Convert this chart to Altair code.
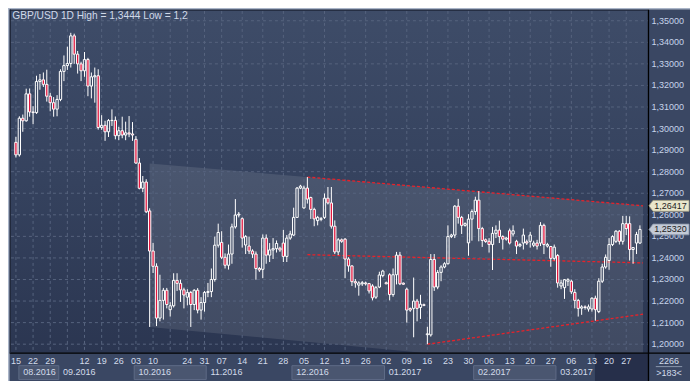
import altair as alt
import pandas as pd

# ---------------- data ----------------
OPEN = [1.2936,1.2878,1.3048,1.3036,1.3161,1.3077,1.3074,1.3218,1.3226,1.3205,
        1.3150,1.3120,1.3090,1.3135,1.3265,1.3292,1.3302,1.3430,1.3345,1.3300,
        1.3268,1.3320,1.3197,1.3240,1.3245,1.3005,1.3015,1.2985,1.3037,1.3038,
        1.2967,1.2990,1.2970,1.2980,1.2975,1.2950,1.2840,1.2723,1.2752,1.2618,
        1.2432,1.2361,1.2121,1.2203,1.2250,1.2160,1.2178,1.2296,1.2282,1.2252,
        1.2218,1.2240,1.2184,1.2250,1.2158,1.2193,1.2240,1.2244,1.2300,1.2459,
        1.2472,1.2403,1.2366,1.2418,1.2544,1.2599,1.2582,1.2460,1.2455,1.2432,
        1.2418,1.2351,1.2347,1.2492,1.2413,1.2437,1.2443,1.2445,1.2469,1.2407,
        1.2492,1.2506,1.2588,1.2724,1.2632,1.2724,1.2680,1.2625,1.2573,1.2579,
        1.2588,1.2677,1.2655,1.2547,1.2428,1.2484,1.2487,1.2395,1.2363,1.2290,
        1.2274,1.2280,1.2284,1.2281,1.2270,1.2218,1.2265,1.2318,1.2285,1.2322,
        1.2230,1.2322,1.2413,1.2283,1.2255,1.2165,1.2166,1.2200,1.2170,1.2183,
        1.2044,1.2043,1.2393,1.2265,1.2333,1.2358,1.2373,1.2499,1.2506,1.2640,
        1.2588,1.2551,1.2470,1.2580,1.2615,1.2668,1.2536,1.2484,1.2477,1.2462,
        1.2514,1.2529,1.2499,1.2487,1.2526,1.2511,1.2477,1.2456,1.2469,1.2475,
        1.2477,1.2459,1.2469,1.2469,1.2551,1.2455,1.2453,1.2398,1.2411,1.2270,
        1.2262,1.2292,1.2292,1.2240,1.2203,1.2167,1.2173,1.2163,1.2163,1.2213,
        1.2151,1.2292,1.2358,1.2388,1.2462,1.2477,1.2524,1.2477,1.2559,1.2559,
        1.2439,1.2469,1.2469]
HIGH = [1.2962,1.3057,1.3065,1.3185,1.3186,1.3104,1.3245,1.3253,1.3260,1.3273,
        1.3166,1.3146,1.3155,1.3275,1.3339,1.3380,1.3444,1.3440,1.3360,1.3310,
        1.3355,1.3328,1.3260,1.3283,1.3275,1.3062,1.3036,1.3044,1.3089,1.3056,
        1.3008,1.3055,1.3032,1.3058,1.3030,1.2965,1.2863,1.2780,1.2765,1.2630,
        1.2470,1.2375,1.2322,1.2261,1.2261,1.2195,1.2329,1.2329,1.2299,1.2262,
        1.2255,1.2247,1.2255,1.2260,1.2218,1.2247,1.2284,1.2351,1.2499,1.2559,
        1.2524,1.2421,1.2462,1.2559,1.2673,1.2613,1.2588,1.2506,1.2499,1.2440,
        1.2430,1.2358,1.2509,1.2509,1.2469,1.2492,1.2481,1.2452,1.2530,1.2506,
        1.2526,1.2633,1.2729,1.2739,1.2735,1.2775,1.2684,1.2633,1.2595,1.2590,
        1.2699,1.2729,1.2729,1.2574,1.2492,1.2490,1.2492,1.2403,1.2366,1.2302,
        1.2292,1.2293,1.2290,1.2284,1.2278,1.2270,1.2336,1.2345,1.2290,1.2329,
        1.2351,1.2428,1.2428,1.2286,1.2262,1.2170,1.2309,1.2210,1.2229,1.2188,
        1.2081,1.2418,1.2418,1.2344,1.2366,1.2380,1.2551,1.2512,1.2645,1.2674,
        1.2595,1.2565,1.2603,1.2625,1.2684,1.2710,1.2544,1.2490,1.2492,1.2544,
        1.2551,1.2573,1.2505,1.2498,1.2536,1.2551,1.2484,1.2470,1.2536,1.2485,
        1.2521,1.2480,1.2484,1.2566,1.2559,1.2470,1.2455,1.2462,1.2418,1.2299,
        1.2302,1.2306,1.2299,1.2255,1.2210,1.2181,1.2180,1.2184,1.2218,1.2225,
        1.2306,1.2373,1.2416,1.2492,1.2505,1.2529,1.2529,1.2595,1.2595,1.2593,
        1.2448,1.2521,1.2551]
LOW = [1.2866,1.2870,1.2985,1.3032,1.3055,1.3020,1.3068,1.3180,1.3193,1.3125,
       1.3080,1.3055,1.3057,1.3127,1.3220,1.3272,1.3283,1.3300,1.3255,1.3220,
       1.3240,1.3150,1.3140,1.3120,1.2995,1.2994,1.2943,1.2961,1.3012,1.2950,
       1.2946,1.2955,1.2946,1.2960,1.2943,1.2837,1.2718,1.2705,1.2608,1.2080,
       1.2330,1.2084,1.2106,1.2114,1.2166,1.2128,1.2170,1.2247,1.2196,1.2166,
       1.2180,1.2080,1.2158,1.2143,1.2114,1.2151,1.2218,1.2218,1.2290,1.2448,
       1.2395,1.2351,1.2346,1.2373,1.2536,1.2588,1.2448,1.2418,1.2418,1.2400,
       1.2299,1.2335,1.2306,1.2373,1.2381,1.2395,1.2425,1.2428,1.2381,1.2381,
       1.2484,1.2502,1.2588,1.2719,1.2628,1.2652,1.2581,1.2547,1.2551,1.2570,
       1.2581,1.2648,1.2536,1.2418,1.2413,1.2470,1.2306,1.2336,1.2270,1.2262,
       1.2225,1.2270,1.2272,1.2235,1.2203,1.2210,1.2260,1.2310,1.2278,1.2203,
       1.2220,1.2277,1.2274,1.2275,1.2100,1.2150,1.2032,1.2106,1.2117,1.2176,
       1.2000,1.2035,1.2247,1.2255,1.2292,1.2352,1.2370,1.2492,1.2492,1.2559,
       1.2511,1.2545,1.2410,1.2480,1.2600,1.2477,1.2451,1.2470,1.2425,1.2344,
       1.2492,1.2469,1.2439,1.2480,1.2462,1.2499,1.2418,1.2450,1.2439,1.2460,
       1.2448,1.2450,1.2439,1.2455,1.2418,1.2448,1.2359,1.2388,1.2262,1.2255,
       1.2210,1.2270,1.2233,1.2166,1.2128,1.2136,1.2160,1.2151,1.2151,1.2109,
       1.2144,1.2284,1.2350,1.2345,1.2455,1.2469,1.2462,1.2462,1.2506,1.2388,
       1.2373,1.2418,1.2465]
CLOSE = [1.2878,1.3048,1.3036,1.3161,1.3077,1.3074,1.3218,1.3226,1.3205,1.3150,
         1.3120,1.3090,1.3135,1.3265,1.3292,1.3302,1.3430,1.3345,1.3300,1.3268,
         1.3320,1.3197,1.3240,1.3245,1.3005,1.3015,1.2985,1.3037,1.3038,1.2967,
         1.2990,1.2970,1.2980,1.2975,1.2970,1.2840,1.2723,1.2752,1.2614,1.2432,
         1.2361,1.2121,1.2203,1.2250,1.2184,1.2178,1.2296,1.2282,1.2252,1.2228,
         1.2240,1.2184,1.2250,1.2158,1.2193,1.2240,1.2244,1.2300,1.2459,1.2518,
         1.2403,1.2366,1.2418,1.2544,1.2599,1.2603,1.2492,1.2499,1.2432,1.2418,
         1.2351,1.2344,1.2492,1.2413,1.2437,1.2443,1.2467,1.2437,1.2407,1.2492,
         1.2511,1.2588,1.2724,1.2733,1.2724,1.2673,1.2625,1.2581,1.2588,1.2582,
         1.2677,1.2655,1.2547,1.2428,1.2484,1.2477,1.2395,1.2363,1.2290,1.2284,
         1.2284,1.2285,1.2280,1.2247,1.2215,1.2262,1.2321,1.2339,1.2280,1.2230,
         1.2322,1.2413,1.2280,1.2278,1.2158,1.2158,1.2200,1.2166,1.2185,1.2180,
         1.2048,1.2393,1.2265,1.2333,1.2358,1.2373,1.2499,1.2506,1.2640,1.2588,
         1.2551,1.2559,1.2580,1.2615,1.2668,1.2536,1.2481,1.2476,1.2462,1.2514,
         1.2529,1.2499,1.2487,1.2492,1.2469,1.2526,1.2455,1.2462,1.2506,1.2469,
         1.2506,1.2469,1.2455,1.2551,1.2462,1.2462,1.2398,1.2450,1.2284,1.2284,
         1.2299,1.2299,1.2243,1.2203,1.2166,1.2173,1.2170,1.2173,1.2213,1.2160,
         1.2292,1.2358,1.2403,1.2462,1.2499,1.2524,1.2477,1.2559,1.2536,1.2439,
         1.2448,1.2509,1.2532]

# week starts (bar index) and their day labels
GRID_IDX = [0,5,10,15,20,25,30,35,40,45,50,55,60,66,72,78,84,90,96,102,108,114,
            120,126,132,138,144,150,156,162,168,173,178]
DAY_IDX = [0,5,10,20,25,30,35,40,50,55,60,66,72,78,84,90,96,102,108,114,120,126,
           132,138,144,150,156,162,168,173,178]
DAY_TXT = ["15","22","29","12","19","26","03","10","24","31","07","14","21","28",
           "05","12","19","26","02","09","16","23","30","06","13","20","27","06",
           "13","20","27"]
MONTH_TXT = ["08.2016","09.2016","10.2016","11.2016","12.2016","01.2017","02.2017","03.2017"]
MONTH_START = [0.85,12.5,34.5,55.5,80.5,107.5,133.5,157.5]
MONTH_END = [12.5,34.5,55.5,80.5,107.5,133.5,157.5,182.9]
PRICE_TICKS = [1.20,1.21,1.22,1.23,1.24,1.25,1.26,1.27,1.28,1.29,1.30,1.31,1.32,1.33,1.34,1.35]

# drawn triangle / trend lines (bar index, price)
POLY_I = [39, 182.9]
POLY_TOP = [1.2838, 1.26417]
POLY_BOT = [1.2080, 1.1863]
LINE_NAME = ["top","top","mid","mid","low","low"]
LINE_I = [85, 182.9, 85, 182.9, 120, 182.9]
LINE_P = [1.2775, 1.26417, 1.2415, 1.2377, 1.2000, 1.2139]
TAG_P = [1.26417, 1.2532]
TAG_KIND = ["line", "last"]
TITLE = "GBP/USD 1D High = 1,3444 Low = 1,2"

# ---------------- layout ----------------
W_TOT, H_TOT = 682, 373
SX, SY = W_TOT / 698, H_TOT / 389
def px(xr): return (xr - 3) * SX
def py(yr): return (yr - 3) * SY
PLOT_W = px(655)
PLOT_H = py(359.5)
PAD = {"left": 3 * SX, "top": 3 * SY,
       "right": W_TOT - 3 * SX - PLOT_W, "bottom": H_TOT - 3 * SY - PLOT_H}

FONT = "Liberation Sans"
FS = 9
RED = "#e3173f"
GRID = "#56637e"
TXT = "#d2dbea"

xs = alt.Scale(domain=[0, 182.89], nice=False, zero=False)
ys = alt.Scale(domain=[1.19604, 1.35458], nice=False, zero=False)

n = len(OPEN)
df = pd.DataFrame({"i": list(range(n)), "o": OPEN, "h": HIGH, "l": LOW, "c": CLOSE})
df["bt"] = df[["o", "c"]].max(axis=1)
df["bb"] = df[["o", "c"]].min(axis=1)

one = pd.DataFrame({"k": [0]})
X = lambda f: alt.X(f, scale=xs, axis=None)
Y = lambda f: alt.Y(f, scale=ys, axis=None)

bg = alt.Chart(one).mark_rect(
    fill=alt.Gradient(gradient="linear",
                      stops=[alt.GradientStop(color="#3e4c68", offset=0),
                             alt.GradientStop(color="#35425e", offset=0.5),
                             alt.GradientStop(color="#2b3651", offset=1)],
                      x1=0, x2=0, y1=0, y2=1)
).encode(x=alt.value(0), x2=alt.value(PLOT_W), y=alt.value(0), y2=alt.value(PLOT_H))

poly = alt.Chart(pd.DataFrame({"i": POLY_I, "top": POLY_TOP, "bot": POLY_BOT})).mark_area(
    color="#ffffff", opacity=0.1, clip=True
).encode(x=X("i:Q"), y=Y("top:Q"), y2="bot:Q")

hgrid = alt.Chart(pd.DataFrame({"p": PRICE_TICKS})).mark_rule(
    color=GRID, strokeDash=[3, 3], strokeWidth=1, clip=True
).encode(y=Y("p:Q"), x=alt.value(0), x2=alt.value(PLOT_W))

vgrid = alt.Chart(pd.DataFrame({"i": GRID_IDX})).mark_rule(
    color=GRID, strokeDash=[3, 3], strokeWidth=1, clip=True
).encode(x=X("i:Q"), y=alt.value(0), y2=alt.value(PLOT_H))

lines = alt.Chart(pd.DataFrame({"name": LINE_NAME, "i": LINE_I, "p": LINE_P})).mark_line(
    color="#e8222a", strokeDash=[3, 2], strokeWidth=1.3, clip=True
).encode(x=X("i:Q"), y=Y("p:Q"), detail="name:N")

wick_up = alt.Chart(df).mark_rule(color="white", strokeWidth=1, clip=True).encode(
    x=X("i:Q"), y=Y("h:Q"), y2="bt:Q")
wick_dn = alt.Chart(df).mark_rule(color="white", strokeWidth=1, clip=True).encode(
    x=X("i:Q"), y=Y("bb:Q"), y2="l:Q")
bodies = alt.Chart(df).mark_bar(width=2.3, stroke="white", strokeWidth=1, clip=True).encode(
    x=X("i:Q"), y=Y("o:Q"), y2="c:Q",
    fill=alt.condition("datum.c < datum.o", alt.value(RED), alt.value("transparent")))

# frame
frame_b = alt.Chart(one).mark_rule(color="#000000", strokeWidth=1.3).encode(
    x=alt.value(px(0)), x2=alt.value(px(698)), y=alt.value(py(360)))
frame_r = alt.Chart(one).mark_rule(color="#000000", strokeWidth=1.3).encode(
    x=alt.value(px(655.5)), y=alt.value(py(0)), y2=alt.value(py(389)))

# bottom axis: month boxes, scroll zone
mdf = pd.DataFrame({"s": MONTH_START, "e": MONTH_END, "t": MONTH_TXT,
                    "shade": [k % 2 == 0 for k in range(len(MONTH_TXT))]})
mbox = alt.Chart(mdf).transform_filter("datum.shade").mark_rect(
    fill="#4a5670", stroke="#5e6b86", strokeWidth=1
).encode(x=X("s:Q"), x2="e:Q", y=alt.value(py(373)), y2=alt.value(py(387.5)))
scroll = alt.Chart(one).mark_rect(fill="#262f4a").encode(
    x=alt.value(px(600.7)), x2=alt.value(px(655)), y=alt.value(py(360.7)), y2=alt.value(py(389)))

mlab = alt.Chart(mdf).mark_text(align="left", baseline="middle", dx=4.3, font=FONT,
                                fontSize=FS, color=TXT).encode(
    x=X("s:Q"), y=alt.value(py(379.8)), text="t:N")
dlab = alt.Chart(pd.DataFrame({"i": DAY_IDX, "t": DAY_TXT})).mark_text(
    align="center", baseline="middle", font=FONT, fontSize=FS, color=TXT
).encode(x=X("i:Q"), y=alt.value(py(368.5)), text="t:N")

pdf = pd.DataFrame({"p": PRICE_TICKS,
                    "t": [f"{v:.5f}".replace(".", ",") for v in PRICE_TICKS]})
plab = alt.Chart(pdf).mark_text(align="left", baseline="middle", font=FONT, fontSize=FS,
                                color="#c6d3ea").encode(
    x=alt.value(px(658.5)), y=Y("p:Q"), text="t:N")

tdf = pd.DataFrame({"p": TAG_P, "kind": TAG_KIND,
                    "t": [f"{v:.5f}".replace(".", ",") for v in TAG_P]})
TAG_PATH = "M -1 0 L -0.8 -0.27 L 1 -0.27 L 1 0.27 L -0.8 0.27 Z"
tags = alt.Chart(tdf).mark_point(shape=TAG_PATH, filled=True, size=1600, opacity=1,
                                 strokeWidth=0.8).encode(
    x=alt.value(px(676.5)), y=Y("p:Q"),
    fill=alt.Fill("kind:N", scale=alt.Scale(domain=["line", "last"],
                                            range=["#e9e6cb", "#c3cad6"]), legend=None),
    stroke=alt.Stroke("kind:N", scale=alt.Scale(domain=["line", "last"],
                                                range=["#a9a486", "#8894a8"]), legend=None))
tagtxt = alt.Chart(tdf).mark_text(align="center", baseline="middle", font=FONT, fontSize=FS,
                                  color="#1e1e1e").encode(
    x=alt.value(px(678)), y=Y("p:Q"), text="t:N")

# outer frame lines
top_light = alt.Chart(one).mark_rule(color="#aab5c8", strokeWidth=1.6).encode(
    x=alt.value(px(0)), x2=alt.value(px(698)), y=alt.value(py(0.8)))
top_dark = alt.Chart(one).mark_rule(color="#1d2436", strokeWidth=1).encode(
    x=alt.value(px(1.6)), x2=alt.value(px(655)), y=alt.value(py(2.3)))
left_light = alt.Chart(one).mark_rule(color="#aab5c8", strokeWidth=1.6).encode(
    x=alt.value(px(0.8)), y=alt.value(py(0)), y2=alt.value(py(389)))
left_dark = alt.Chart(one).mark_rule(color="#1d2436", strokeWidth=1.2).encode(
    x=alt.value(px(2.3)), y=alt.value(py(1.6)), y2=alt.value(py(360)))

title = alt.Chart(one).mark_text(align="left", baseline="middle", font=FONT, fontSize=10.2,
                                 color="#d0d9e8").encode(
    x=alt.value(px(4.3)), y=alt.value(py(8.6)), text=alt.value(TITLE))

cnt_df = pd.DataFrame({"t": ["2266", ">183<"], "yy": [py(367.8), py(380.6)]})
cnt = alt.Chart(cnt_df).mark_text(align="center", baseline="middle", font=FONT, fontSize=FS,
                                  color=TXT).encode(
    x=alt.value(px(676.5)), y=alt.Y("yy:Q", scale=None, axis=None), text="t:N")
cnt_line = alt.Chart(one).mark_rule(color="#8a96ab", strokeWidth=1).encode(
    x=alt.value(px(663)), x2=alt.value(px(690)), y=alt.value(py(374)))

chart = alt.layer(
    bg, poly, hgrid, vgrid, lines, wick_up, wick_dn, bodies,
    scroll, mbox, frame_b, frame_r, mlab, dlab, plab, tags, tagtxt,
    top_light, top_dark, left_light, left_dark, title, cnt, cnt_line
).properties(
    width=PLOT_W, height=PLOT_H, padding=PAD,
    autosize=alt.AutoSizeParams(type="none")
).configure(background="#3a4763").configure_view(stroke=None)

chart.save("out.html", embed_options={"renderer": "svg", "actions": False})
